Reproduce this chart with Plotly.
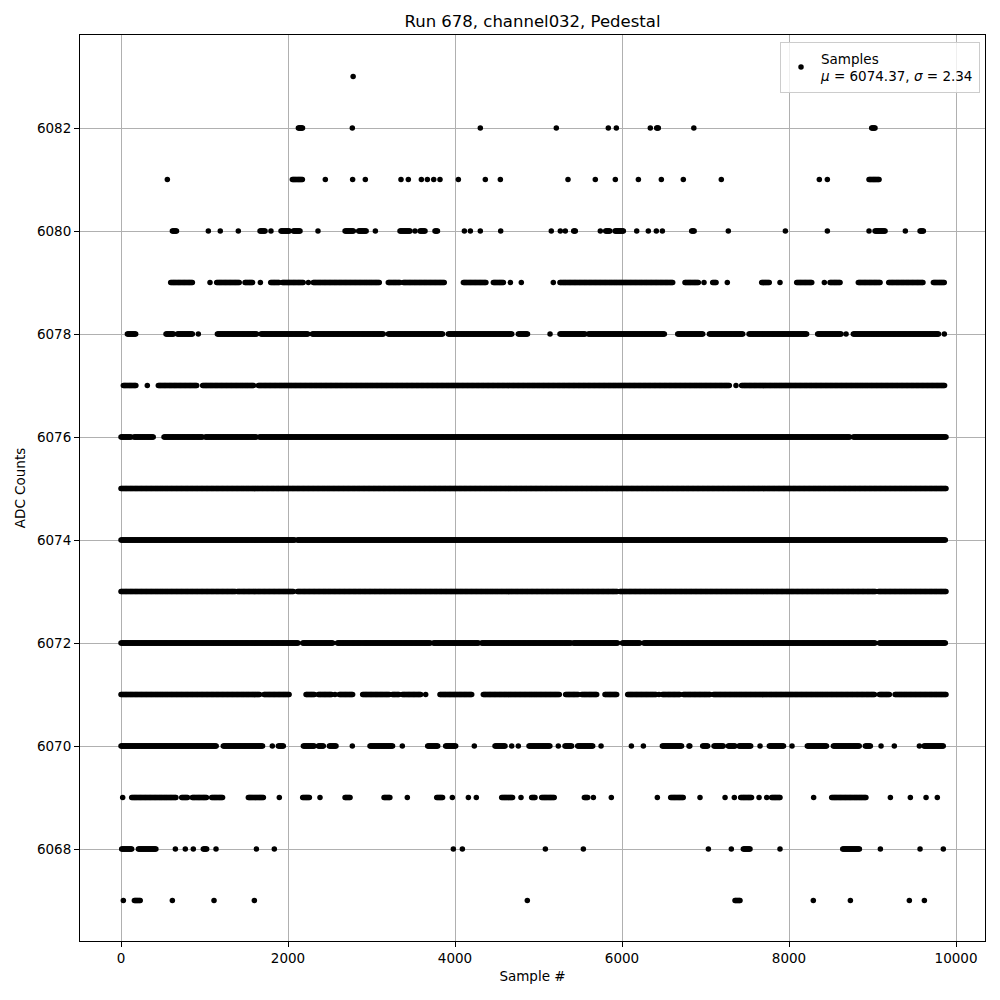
import numpy as np
import plotly.graph_objects as go

# Per ADC level, sample positions of isolated dots (int)
# and runs of densely packed dots (start, end).
lvl_6083 = [2780]
lvl_6082 = [(2124, 2177), 2770, 4303, 5213, 5836, 5932, 6339, (6415, 6443), 6860, (8990, 9030)]
lvl_6081 = [555, (2052, 2176), 2447, 2774, 2926, 3353, 3441, 3597, 3669, 3745, 3820, 4040, 4363,
            4543, 5353, 5680, 5920, 6196, 6471, 6734, 7189, 8363, 8459, (8958, 9078)]
lvl_6080 = [(615, 667), 1046, 1189, 1405, (1665, 1725), 1796, (1916, 2016), (2064, 2144), 2359,
            (2683, 2790), (2846, 2942), 3046, (3341, 3461), 3521, (3581, 3641), (3760, 3793), 4112,
            4184, 4303, 4547, 5153, 5261, 5321, (5421, 5445), 5740, (5804, 5860), (5916, 6024), 6176,
            6315, 6411, 6483, (6834, 6866), 7273, 7956, 8459, 8958, (9030, 9150), 9393, (9569, 9609)]
lvl_6079 = [(595, 858), 1066, (1146, 1417), (1485, 1577), 1669, (1793, 1896), (1932, 2184), 2244,
            (2303, 3102), (3201, 3341), (3381, 3872), (4100, 4379), (4459, 4579), 4663, 4794, 5177,
            (5257, 6614), (6754, 6914), 6982, (7086, 7134), 7261, (7673, 7772), 7892, (8092, 8272),
            8423, (8491, 8611), (8830, 9098), (9194, 9609), (9729, 9868)]
lvl_6078 = [(76, 180), (539, 635), (675, 858), 926, (1154, 1625), (1677, 2244), (2291, 3142),
            (3201, 3860), (3920, 4686), (4758, 4870), 5138, (5257, 5557), (5597, 6515), (6667, 6974),
            (7046, 7453), (7521, 8219), (8343, 8631), 8683, (8770, 9796), 9860]
lvl_6077 = [(28, 180), 315, (447, 914), (978, 1593), (1645, 7293), 7365, (7433, 9868)]
lvl_6076 = [(0, 128), (156, 395), (515, 978), (1010, 1625), (1657, 8731), (8770, 9888)]
lvl_6075 = [(0, 9880)]
lvl_6074 = [(0, 2084), (2112, 9880)]
lvl_6073 = [(0, 1377), (1393, 2072), (2112, 5948), (5976, 9042), (9070, 9880)]
lvl_6072 = [(0, 2124), (2176, 2543), (2591, 2882), (2894, 3713), (3741, 4287), (4319, 5389),
            (5417, 5956), (6004, 6219), (6260, 9030), (9082, 9880)]
lvl_6071 = [(0, 1665), (1713, 2016), (2216, 2323), (2363, 2523), 2563, (2614, 2782), (2894, 3222),
            (3249, 3329), (3369, 3593), 3649, (3820, 4200), (4339, 5257), (5325, 5477), (5517, 5697),
            (5796, 5936), (6068, 6415), 6443, (6483, 6695), (6734, 7054), (7094, 9030), (9082, 9210),
            (9270, 9880)]
lvl_6070 = [(0, 1146), (1225, 1697), 1812, (1884, 1952), (2184, 2323), (2363, 2423), (2495, 2583),
            2770, (2982, 3261), 3369, (3673, 3800), (3888, 4008), 4231, (4479, 4599), 4679, 4758,
            (4886, 5138), 5237, (5317, 5397), (5469, 5657), 5749, 6112, 6256, (6483, 6715),
            (6802, 6814), (6966, 7034), (7102, 7214), (7273, 7353), (7401, 7541), 7653, (7764, 7940),
            8036, (8219, 8451), (8531, 8850), (8914, 8978), 9102, 9261, 9561, (9617, 9856)]
lvl_6069 = [20, (128, 667), (727, 806), (854, 1026), (1086, 1218), (1525, 1705), 1896, (2176, 2263),
            2383, (2683, 2743), (3150, 3222), 3429, (3781, 3860), 3968, 4160, 4255, (4559, 4698), 4790,
            (4918, 4966), (5038, 5189), (5549, 5597), 5657, 5872, 6423, (6583, 6734), 6934, 7234, 7345,
            (7421, 7553), 7641, 7733, (7792, 7892), 8295, (8511, 8930), 9214, 9453, 9641, 9776]
lvl_6068 = [(8, 128), (208, 419), 651, 770, 866, (986, 1034), 1138, 1621, 1836, 3980, 4088, 5082,
            5537, 7034, 7309, (7453, 7533), 7892, (8643, 8850), 9094, 9569, 9848]
lvl_6067 = [28, (160, 235), 615, 1114, 1597, 4866, (7353, 7413), 8291, 8735, 9441, 9621]

levels = {
    6083: lvl_6083, 6082: lvl_6082, 6081: lvl_6081, 6080: lvl_6080, 6079: lvl_6079,
    6078: lvl_6078, 6077: lvl_6077, 6076: lvl_6076, 6075: lvl_6075, 6074: lvl_6074,
    6073: lvl_6073, 6072: lvl_6072, 6071: lvl_6071, 6070: lvl_6070, 6069: lvl_6069,
    6068: lvl_6068, 6067: lvl_6067,
}

x_ticks = [0, 2000, 4000, 6000, 8000, 10000]
y_ticks = [6068, 6070, 6072, 6074, 6076, 6078, 6080, 6082]

mean_label = "6074.37"
sigma_label = "2.34"

xs, ys = [], []
for lvl, items in levels.items():
    for it in items:
        if isinstance(it, tuple):
            pts = np.arange(it[0], it[1] + 1, 10)
        else:
            pts = np.array([it])
        xs.extend(pts.tolist())
        ys.extend([lvl] * len(pts))

order = np.argsort(xs, kind="stable")
xs = np.array(xs)[order]
ys = np.array(ys)[order]

FONT = "DejaVu Sans"

fig = go.Figure()
fig.add_trace(go.Scatter(
    x=xs, y=ys, mode="markers",
    marker=dict(color="black", size=5.5, line=dict(width=0)),
    name=f"Samples<br><i>μ</i> = {mean_label}, <i>σ</i> = {sigma_label}",
    showlegend=True,
))

axis_common = dict(
    showgrid=True, gridcolor="#b0b0b0", gridwidth=1,
    showline=True, linecolor="black", linewidth=1, mirror=True,
    ticks="outside", ticklen=5, tickcolor="black", tickwidth=1,
    tickfont=dict(family=FONT, size=13.5, color="black"),
    zeroline=False,
)

fig.update_layout(
    width=1000, height=1000,
    margin=dict(l=72, r=23, t=27, b=67),
    paper_bgcolor="white", plot_bgcolor="white",
    font=dict(family=FONT, color="black"),
    title=dict(text="Run 678, channel032, Pedestal", x=0.5245, xanchor="center",
               y=0.987, yanchor="middle", font=dict(family=FONT, size=16.5, color="black")),
    xaxis=dict(range=[-491, 10347], tickvals=x_ticks, tickformat="d",
               title=dict(text="Sample #", font=dict(family=FONT, size=13.5), standoff=6),
               **axis_common),
    yaxis=dict(range=[6066.214, 6083.806], tickvals=y_ticks, tickformat="d",
               title=dict(text="ADC Counts", font=dict(family=FONT, size=13.5), standoff=8),
               **axis_common),
    legend=dict(x=0.9945, y=0.9923, xanchor="right", yanchor="top",
                bgcolor="rgba(255,255,255,0.8)", bordercolor="#cccccc", borderwidth=1,
                font=dict(family=FONT, size=13.5, color="black"), valign="middle"),
)

fig.write_html("out.html")
